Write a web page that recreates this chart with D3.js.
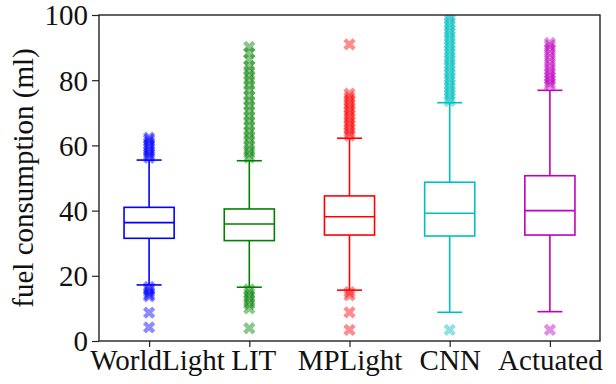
<!DOCTYPE html>
<html>
<head>
<meta charset="utf-8">
<script src="https://cdn.jsdelivr.net/npm/d3@7"></script>
<style>
  body { margin: 0; background: #fff; }
  svg { display: block; }
</style>
</head>
<body>
<svg width="616" height="384" font-family="Liberation Serif" style="font-family: 'Liberation Serif'"></svg>
<script>
// data
const methods = ["WorldLight", "LIT", "MPLight", "CNN", "Actuated"];
const colors = ["#0000ff", "#008000", "#ff0000", "#00bfbf", "#bf00bf"];
const lowCap = [17.2, 16.5, 15.6, 8.8, 9.0];
const q1 = [31.5, 30.8, 32.5, 32.2, 32.5];
const median = [36.3, 35.9, 38.1, 39.2, 40.0];
const q3 = [41.0, 40.5, 44.5, 48.7, 50.7];
const highCap = [55.5, 55.3, 62.2, 73.1, 76.9];
const yTicks = [0, 20, 40, 60, 80, 100];

const fliersWorldLight = [56.2, 56.9, 57.6, 58.4, 59.3, 60.1, 61.0, 61.8, 62.4,
  16.6, 15.8, 15.0, 14.2, 13.7, 8.7, 4.2];
const fliersLIT = [56.3, 57.5, 58.7, 60.1, 61.6, 63.0, 64.4, 66.0, 67.5, 69.0,
  70.6, 72.1, 73.7, 75.2, 77.0, 78.5, 80.0, 81.4, 82.9, 84.3, 86.3, 88.4, 90.2,
  15.8, 14.7, 13.6, 12.5, 11.3, 10.0, 3.9];
const fliersMPLight = [63.0, 64.0, 65.1, 66.2, 67.2, 68.3, 69.4, 70.5, 71.5, 72.6,
  73.7, 74.8, 75.9, 91.0, 15.0, 14.0, 8.8, 3.4];
const fliersCNN = [73.6, 74.6, 75.6, 76.6, 77.7, 78.7, 79.8, 80.8, 81.9, 82.9, 84.0,
  85.0, 86.1, 87.1, 88.2, 89.2, 90.3, 91.3, 92.4, 93.4, 94.5, 95.5, 96.6, 97.6, 98.7,
  99.7, 3.4];
const fliersActuated = [78.4, 79.2, 80.1, 81.0, 82.0, 83.1, 84.3, 85.6, 86.9, 88.2,
  89.5, 90.6, 91.4, 3.4];
const fliers = [fliersWorldLight, fliersLIT, fliersMPLight, fliersCNN, fliersActuated];

const svg = d3.select("svg");
const mLeft = 99, mRight = 600, mTop = 15, mBottom = 341;
const serif = "Liberation Serif";

const x = d3.scalePoint().domain(methods).range([mLeft, mRight]).padding(0.5);
const y = d3.scaleLinear().domain([0, 100]).range([mBottom, mTop]);
const boxW = x.step() * 0.5;
const capW = boxW * 0.5;

svg.append("clipPath").attr("id", "plotclip")
  .append("rect").attr("x", mLeft).attr("y", mTop)
  .attr("width", mRight - mLeft).attr("height", mBottom - mTop);

const boxes = methods.map((m, i) => ({
  name: m, color: colors[i], lo: lowCap[i], q1: q1[i], med: median[i],
  q3: q3[i], hi: highCap[i], fliers: fliers[i]
}));

const plot = svg.append("g").attr("clip-path", "url(#plotclip)");
const g = plot.selectAll("g.box").data(boxes).enter().append("g")
  .attr("class", "box")
  .attr("stroke", d => d.color)
  .attr("stroke-width", 1.6)
  .attr("fill", "none");

// fliers, filled X markers
const xMark = d3.symbol(d3.symbolCross, 95)();
g.selectAll("path.flier").data(d => d.fliers.map(v => ({ v, name: d.name, color: d.color })))
  .enter().append("path")
  .attr("class", "flier")
  .attr("d", xMark)
  .attr("transform", d => `translate(${x(d.name)},${y(d.v)}) rotate(45)`)
  .attr("stroke", "none")
  .attr("fill", d => d.color)
  .attr("fill-opacity", 0.45);

// whiskers and caps
g.append("line").attr("x1", d => x(d.name)).attr("x2", d => x(d.name))
  .attr("y1", d => y(d.q3)).attr("y2", d => y(d.hi));
g.append("line").attr("x1", d => x(d.name)).attr("x2", d => x(d.name))
  .attr("y1", d => y(d.q1)).attr("y2", d => y(d.lo));
g.append("line").attr("x1", d => x(d.name) - capW / 2).attr("x2", d => x(d.name) + capW / 2)
  .attr("y1", d => y(d.hi)).attr("y2", d => y(d.hi));
g.append("line").attr("x1", d => x(d.name) - capW / 2).attr("x2", d => x(d.name) + capW / 2)
  .attr("y1", d => y(d.lo)).attr("y2", d => y(d.lo));
// box + median
g.append("rect").attr("x", d => x(d.name) - boxW / 2).attr("width", boxW)
  .attr("y", d => y(d.q3)).attr("height", d => y(d.q1) - y(d.q3));
g.append("line").attr("x1", d => x(d.name) - boxW / 2).attr("x2", d => x(d.name) + boxW / 2)
  .attr("y1", d => y(d.med)).attr("y2", d => y(d.med));

// axes (d3 sets font-family="sans-serif" on the axis group, so override it)
const yAxis = svg.append("g").attr("transform", `translate(${mLeft},0)`)
  .call(d3.axisLeft(y).tickValues(yTicks).tickSize(7).tickPadding(4))
  .attr("font-family", serif).attr("font-size", 29);
yAxis.select(".domain").remove();
yAxis.selectAll(".tick line").attr("stroke", "#222").attr("stroke-width", 1.2);
yAxis.selectAll(".tick text")
  .attr("font-family", serif).style("font-family", `'${serif}'`)
  .attr("fill", "#111").attr("dy", "0.34em");

const labelShift = { WorldLight: 8, LIT: 4 };
const xAxis = svg.append("g").attr("transform", `translate(0,${mBottom})`)
  .call(d3.axisBottom(x).tickSize(6).tickPadding(4))
  .attr("font-family", serif).attr("font-size", 29);
xAxis.select(".domain").remove();
xAxis.selectAll(".tick line").attr("stroke", "#222").attr("stroke-width", 1.2);
xAxis.selectAll(".tick text")
  .attr("font-family", serif).style("font-family", `'${serif}'`)
  .attr("fill", "#111")
  .attr("y", 29).attr("dy", 0)
  .attr("dx", d => labelShift[d] || 0);

// frame
svg.append("rect").attr("x", mLeft).attr("y", mTop)
  .attr("width", mRight - mLeft).attr("height", mBottom - mTop)
  .attr("fill", "none").attr("stroke", "#222").attr("stroke-width", 1.4);

svg.append("text")
  .attr("transform", `translate(33,${(mTop + mBottom) / 2}) rotate(-90)`)
  .attr("text-anchor", "middle")
  .attr("font-family", serif).style("font-family", `'${serif}'`)
  .attr("font-size", 29)
  .attr("fill", "#111")
  .text("fuel consumption (ml)");
</script>
</body>
</html>
